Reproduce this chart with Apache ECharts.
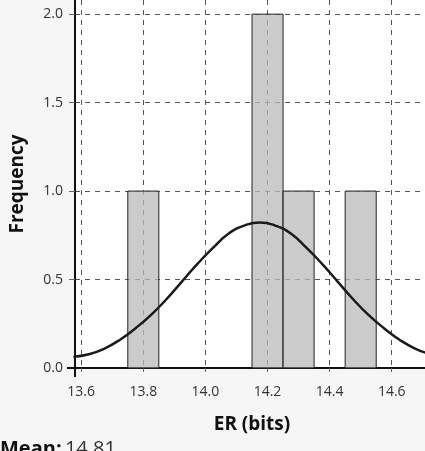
<!DOCTYPE html>
<html>
<head>
<meta charset="utf-8">
<script src="https://cdn.jsdelivr.net/npm/echarts@6/dist/echarts.min.js"></script>
<style>
  html, body { margin: 0; padding: 0; background: #f6f6f6; }
  #chart { width: 425px; height: 451px; }
</style>
</head>
<body>
<div id="chart"></div>
<script>
// histogram bins (ER in bits)
let binStart = [13.75, 14.15, 14.25, 14.45];
let binEnd = [13.85, 14.25, 14.35, 14.55];
let binCount = [1, 2, 1, 1];

// fitted curve
let curveX = [13.575, 13.625, 13.675, 13.725, 13.775, 13.825, 13.875, 13.925, 13.975, 14.025, 14.075, 14.125,
    14.175, 14.225, 14.275, 14.325, 14.375, 14.425, 14.475, 14.525, 14.575, 14.625, 14.675, 14.725];
let curveY = [0.064, 0.078, 0.11, 0.16, 0.225, 0.30, 0.39, 0.49, 0.59, 0.68, 0.76, 0.805,
    0.823, 0.805, 0.76, 0.68, 0.59, 0.49, 0.39, 0.30, 0.225, 0.16, 0.11, 0.078];

let xTicks = [13.6, 13.8, 14.0, 14.2, 14.4, 14.6];
let yTicks = [0, 0.5, 1, 1.5, 2];

let meanText = '14.81';

let font = '"Open Sans", "DejaVu Sans", sans-serif';

let myChart = echarts.init(document.getElementById('chart'));

let barData = [];
for (let i = 0; i < binCount.length; i++) {
    barData.push([binStart[i], binEnd[i], binCount[i]]);
}
let curveData = [];
for (let i = 0; i < curveX.length; i++) {
    curveData.push([curveX[i], curveY[i]]);
}

let option = {
    backgroundColor: '#f6f6f6',
    animation: false,
    grid: {
        left: 75,
        right: -4,
        top: 0,
        bottom: 83,
        outerBoundsMode: 'none',
        show: true,
        backgroundColor: '#fff',
        borderWidth: 0
    },
    xAxis: {
        type: 'value',
        min: 13.58,
        max: 14.72,
        name: 'ER (bits)',
        nameLocation: 'middle',
        nameGap: 47,
        nameTextStyle: { fontFamily: font, fontSize: 19, fontWeight: 'bold', color: '#111' },
        axisLine: { onZero: false, lineStyle: { color: '#111', width: 2 } },
        axisTick: {
            show: true,
            customValues: xTicks,
            length: 6,
            lineStyle: { color: '#666', type: 'dashed' }
        },
        axisLabel: {
            customValues: xTicks,
            fontFamily: font,
            fontSize: 14,
            color: '#333',
            margin: 17,
            formatter: v => v.toFixed(1)
        },
        splitLine: {
            show: true,
            lineStyle: { color: '#555', type: [5, 5], width: 1 }
        }
    },
    yAxis: {
        type: 'value',
        min: 0,
        max: 2.08,
        name: 'Frequency',
        nameLocation: 'middle',
        nameGap: 48,
        nameTextStyle: { fontFamily: font, fontSize: 19, fontWeight: 'bold', color: '#111' },
        axisLine: { show: true, lineStyle: { color: '#111', width: 2 } },
        axisTick: {
            show: true,
            customValues: yTicks,
            length: 6,
            lineStyle: { color: '#666' }
        },
        axisLabel: {
            customValues: yTicks,
            fontFamily: font,
            fontSize: 14,
            color: '#333',
            margin: 12,
            formatter: v => v.toFixed(1)
        },
        splitLine: {
            show: true,
            lineStyle: { color: '#555', type: [5, 5], width: 1 }
        }
    },
    series: [
        {
            type: 'custom',
            data: barData,
            z: 2,
            renderItem: function (params, api) {
                let p0 = api.coord([api.value(0), 0]);
                let p1 = api.coord([api.value(1), api.value(2)]);
                return {
                    type: 'rect',
                    shape: { x: p0[0], y: p1[1], width: p1[0] - p0[0], height: p0[1] - p1[1] },
                    style: { fill: 'rgba(185,185,185,0.75)', stroke: '#222', lineWidth: 1 }
                };
            }
        },
        {
            type: 'line',
            data: curveData,
            smooth: true,
            showSymbol: false,
            z: 3,
            lineStyle: { color: '#1a1a1a', width: 2.5 }
        }
    ],
    graphic: [{
        id: 'mean',
        type: 'text',
        left: 0,
        top: 439,
        style: {
            text: '{b|Mean:} {n|' + meanText + '}',
            rich: {
                b: { fontFamily: font, fontSize: 20, fontWeight: 'bold', fill: '#111' },
                n: { fontFamily: font, fontSize: 20, fill: '#333' }
            }
        }
    }]
};

myChart.setOption(option);

// axis lines run a little past the corner
let corner = myChart.convertToPixel({ gridIndex: 0 }, [13.58, 0]);
myChart.setOption({
    graphic: [{
        id: 'xOver',
        type: 'line',
        silent: true,
        z: 10,
        shape: { x1: corner[0] - 8, y1: corner[1], x2: corner[0], y2: corner[1] },
        style: { stroke: '#111', lineWidth: 2 }
    }, {
        id: 'yOver',
        type: 'line',
        silent: true,
        z: 10,
        shape: { x1: corner[0], y1: corner[1], x2: corner[0], y2: corner[1] + 9 },
        style: { stroke: '#111', lineWidth: 2 }
    }]
});
</script>
</body>
</html>
